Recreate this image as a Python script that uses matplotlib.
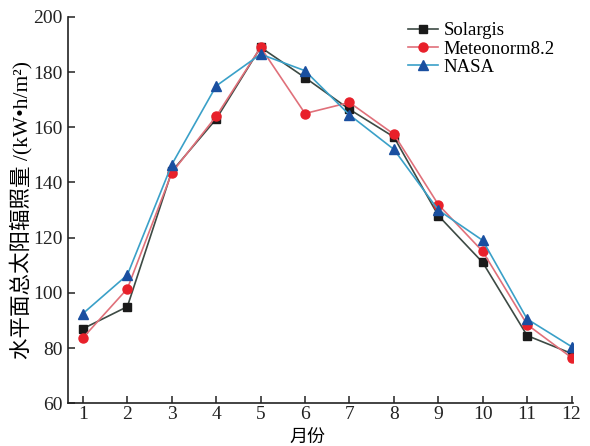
import matplotlib
matplotlib.use("Agg")
import matplotlib.pyplot as plt
import numpy as np

months = np.arange(1, 13)
solargis = [87, 95, 144, 163, 189, 178, 166.5, 156.5, 128, 111, 84.5, 78]
meteonorm = [83.7, 101.5, 143.5, 164, 189, 165, 169, 157.5, 132, 115, 88.5, 76.5]
nasa = [92.5, 106.5, 146.5, 175, 186.5, 180.5, 164.5, 152, 130, 119, 90.5, 80.5]

plt.rcParams['font.family'] = ['Liberation Serif', 'Noto Sans CJK SC']

fig = plt.figure(figsize=(5.9, 4.46), dpi=100)
ax = fig.add_axes([0.115, 0.096, 0.856, 0.866])

ax.plot(months, solargis, color='#3d4a44', lw=1.2, marker='s', ms=5.5,
        mfc='#1a1a1a', mec='#1a1a1a', label='Solargis')
ax.plot(months, meteonorm, color='#e0707a', lw=1.2, marker='o', ms=6.5,
        mfc='#e8202a', mec='#e8202a', label='Meteonorm8.2')
ax.plot(months, nasa, color='#3aa0c8', lw=1.2, marker='^', ms=6.5,
        mfc='#1a4fa0', mec='#1a4fa0', label='NASA')

ax.set_xlim(0.66, 12.03)
ax.set_ylim(60, 200)
ax.set_xticks(months)
ax.set_yticks(np.arange(60, 201, 20))
ax.spines['top'].set_visible(False)
ax.spines['right'].set_visible(False)
for s in ['left', 'bottom']:
    ax.spines[s].set_linewidth(1.2)
    ax.spines[s].set_color('#222222')
ax.tick_params(direction='in', length=5, width=1.1, labelsize=14, colors='#222222')
ax.tick_params(axis='x', pad=2)

ax.set_xlabel('月份', fontsize=13, family='Noto Sans CJK SC', labelpad=0)
ax.xaxis.set_label_coords(0.475, -0.063)
ax.set_ylabel('水平面总太阳辐照量 /(kW•h/m²)', fontsize=15.5, labelpad=1)

ax.legend(loc='upper right', bbox_to_anchor=(0.99, 1.02), frameon=False, fontsize=13.5,
          handlelength=1.6, handletextpad=0.3, labelspacing=0.05, borderpad=0.2)

fig.savefig('out.png', dpi=100)
